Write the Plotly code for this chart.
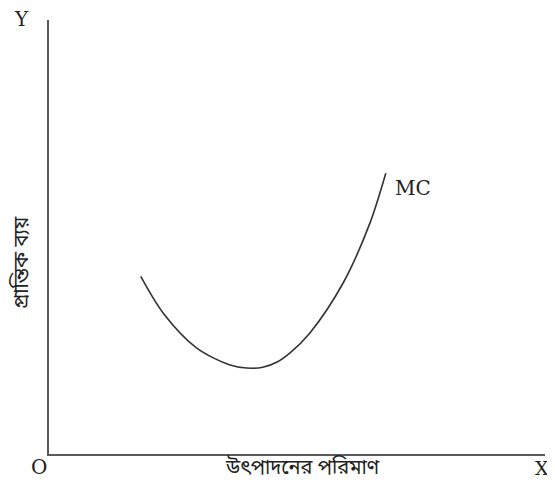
import plotly.graph_objects as go

# MC curve points (quantity, marginal cost)
quantity = [1.85, 2.30, 2.98, 3.65, 3.99, 4.31, 4.60, 4.86, 5.26, 5.93, 6.47, 6.79]
marginal_cost = [4.09, 3.25, 2.44, 2.05, 1.98, 2.00, 2.12, 2.33, 2.79, 3.94, 5.32, 6.47]

curve_label = "MC"
x_title = "উৎপাদনের পরিমাণ"
y_title = "প্রান্তিক ব্যয়"

# page is offset by the browser's default 8px body margin
OFF = 8
W, H = 555 - OFF, 487 - OFF
# plot area in page pixels
PL, PT, PR, PB = 49, 20, 545, 454
L, T = PL - OFF, PT - OFF
R, B = W - (PR - OFF), H - (PB - OFF)
pw, ph = PR - PL, PB - PT

def px(x):
    return (x - PL) / pw

def py(y):
    return (PB - y) / ph

serif = "DejaVu Serif, Liberation Serif, serif"
beng = "Noto Sans Bengali, Noto Serif Bengali, Lohit Bengali, FreeSerif, Noto Sans, sans-serif"

fig = go.Figure()
fig.add_trace(go.Scatter(
    x=quantity, y=marginal_cost, mode="lines",
    line=dict(color="#333333", width=1.6, shape="spline", smoothing=0.9),
    hoverinfo="skip", showlegend=False,
))

fig.update_xaxes(range=[0, 10], showline=True, linecolor="#5a5a5a", linewidth=2,
                 showgrid=False, zeroline=False, showticklabels=False, ticks="")
fig.update_yaxes(range=[0, 10], showline=True, linecolor="#5a5a5a", linewidth=2,
                 showgrid=False, zeroline=False, showticklabels=False, ticks="")

ann = [
    dict(text="Y", x=px(21), y=py(19), font=dict(family=serif, size=20, color="#222")),
    dict(text="O", x=px(38.5), y=py(467), font=dict(family=serif, size=20, color="#222")),
    dict(text="X", x=px(542), y=py(468), font=dict(family=serif, size=19, color="#222")),
    dict(text=x_title, x=px(302), y=py(468), font=dict(family=beng, size=20, color="#222")),
    dict(text=y_title, x=px(22), y=py(263), textangle=-90, font=dict(family=beng, size=20, color="#222")),
    dict(text=curve_label, x=px(413), y=py(187.5), font=dict(family=serif, size=20, color="#222")),
]
for a in ann:
    fig.add_annotation(xref="paper", yref="paper", showarrow=False,
                       xanchor="center", yanchor="middle", **a)

fig.update_layout(
    width=W, height=H,
    margin=dict(l=L, r=R, t=T, b=B),
    paper_bgcolor="white", plot_bgcolor="white",
    showlegend=False,
)

fig.write_html("out.html")
